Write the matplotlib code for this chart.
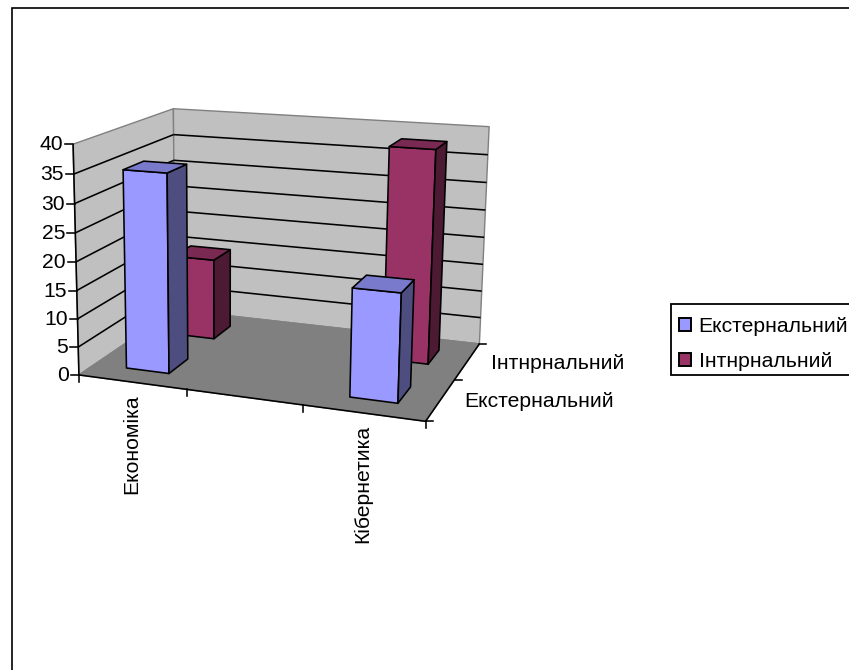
import numpy as np
import matplotlib
matplotlib.use("Agg")
import matplotlib.pyplot as plt
from matplotlib.patches import Polygon, Patch, Rectangle

plt.rcParams['font.family'] = ['Liberation Sans', 'DejaVu Sans']

categories = ["Економіка", "", "Кібернетика"]
series_names = ["Екстернальний", "Інтнрнальний"]
external = [35, np.nan, 18.5]
internal = [15, np.nan, 38]
value_ticks = [0, 5, 10, 15, 20, 25, 30, 35, 40]

FS = 15.2
BAR = 0.4
LW = 1.15
# face colours per series: front, side, top
STYLE = [("#9999FF", "#4D4D80", "#7A7ACC"), ("#993366", "#4D1A33", "#7A2952")]

fig = plt.figure(figsize=(8.49, 6.70), dpi=100)
ax = fig.add_axes([0, 0, 1, 1])
ax.set_xlim(0, 849)
ax.set_ylim(670, 0)
ax.axis("off")

# camera calibrated on the corners of the chart box: (category, value, series depth) -> pixel
vmax = value_ticks[-1]
ncat, nser = len(categories), len(series_names)
world = [(0, 0, 0), (ncat, 0, 0), (ncat, 0, nser), (0, 0, nser),
         (0, vmax, 0), (0, vmax, nser), (ncat, vmax, nser)]
pix = [(80, 375), (425, 422), (480, 343), (174, 310), (72.5, 143.5), (174, 109), (489, 127)]
A, b = [], []
for (X, Y, Z), (u, v) in zip(world, pix):
    A.append([X, Y, Z, 1, 0, 0, 0, 0, -u * X, -u * Y, -u * Z]); b.append(u)
    A.append([0, 0, 0, 0, X, Y, Z, 1, -v * X, -v * Y, -v * Z]); b.append(v)
h = np.linalg.lstsq(np.array(A, float), np.array(b, float), rcond=None)[0]
P = np.append(h, 1).reshape(3, 4)


def pr(x, y, z):
    q = P @ np.array([x, y, z, 1.0])
    return q[0] / q[2], q[1] / q[2]


def face(pts, fc, ec="black", lw=LW, z=2):
    ax.add_patch(Polygon([pr(*p) for p in pts], closed=True, fc=fc, ec=ec, lw=lw, zorder=z, joinstyle="round"))


def seg(a, b, lw=LW, c="black", z=1.5):
    pa, pb = pr(*a), pr(*b)
    ax.plot([pa[0], pb[0]], [pa[1], pb[1]], color=c, lw=lw, zorder=z, solid_capstyle="butt")


# walls and floor
face([(0, 0, 0), (0, vmax, 0), (0, vmax, nser), (0, 0, nser)], "#C0C0C0", "#808080", 1.0, 1)
face([(0, 0, nser), (0, vmax, nser), (ncat, vmax, nser), (ncat, 0, nser)], "#C0C0C0", "#808080", 1.0, 1)
face([(0, 0, 0), (ncat, 0, 0), (ncat, 0, nser), (0, 0, nser)], "#808080", "#808080", 1.0, 1.2)

# gridlines
for v in value_ticks[1:-1]:
    seg((0, v, 0), (0, v, nser))
    seg((0, v, nser), (ncat, v, nser))

# axes
seg((0, 0, 0), (0, vmax, 0), z=1.6)
seg((0, 0, 0), (ncat, 0, 0), z=1.6)
seg((ncat, 0, 0), (ncat, 0, nser), z=1.6)
for v in value_ticks:
    u, w = pr(0, v, 0)
    ax.plot([u - 8, u], [w, w], color="black", lw=LW, zorder=1.6)
    ax.text(u - 10, w + 0.5, str(v), ha="right", va="center", fontsize=FS, color="black")
for c in range(ncat + 1):
    u, w = pr(c, 0, 0)
    ax.plot([u, u], [w, w + 7], color="black", lw=LW, zorder=1.6)
for s in range(nser + 1):
    u, w = pr(ncat, 0, s)
    ax.plot([u, u + 7], [w, w], color="black", lw=LW, zorder=1.6)

# category labels
for c, name in enumerate(categories):
    if name:
        u, w = pr(c + 0.5, 0, 0)
        ax.text(u - 0.5, w + 12, name, rotation=90, ha="center", va="top", fontsize=FS, color="black")
# series labels
for s, name in enumerate(series_names):
    u, w = pr(ncat, 0, s + 0.5)
    ax.text(u + 24, w + 2, name, ha="left", va="center", fontsize=FS, color="black")

# bars, from back to front
pad = (1 - BAR) / 2
for s, vals in reversed(list(enumerate([external, internal]))):
    fr, si, to = STYLE[s]
    for c, v in enumerate(vals):
        if np.isnan(v):
            continue
        x0, x1, z0, z1 = c + pad, c + 1 - pad, s + pad, s + 1 - pad
        zo = 3 + (nser - s)
        face([(x0, 0, z0), (x1, 0, z0), (x1, v, z0), (x0, v, z0)], fr, z=zo)
        face([(x1, 0, z0), (x1, 0, z1), (x1, v, z1), (x1, v, z0)], si, z=zo)
        face([(x0, v, z0), (x1, v, z0), (x1, v, z1), (x0, v, z1)], to, z=zo)

# legend
ax.add_patch(Rectangle((671, 304), 200, 71, fc="white", ec="black", lw=1.3, zorder=8))
handles = [Patch(fc=STYLE[i][0], ec="black", lw=1.4, label=series_names[i]) for i in range(nser)]
leg = ax.legend(handles=handles, loc="upper left", bbox_to_anchor=(670, 308), bbox_transform=ax.transData,
                fontsize=FS, frameon=False,
                handlelength=0.56, handleheight=0.56, handletextpad=0.38, labelspacing=0.775,
                borderpad=0.42, borderaxespad=0)
leg.set_zorder(9)

# chart frame
ax.plot([12.5, 12.5, 849], [670, 7.5, 7.5], color="black", lw=1.2, zorder=10, solid_joinstyle="miter")

fig.savefig("out.png", dpi=100)
